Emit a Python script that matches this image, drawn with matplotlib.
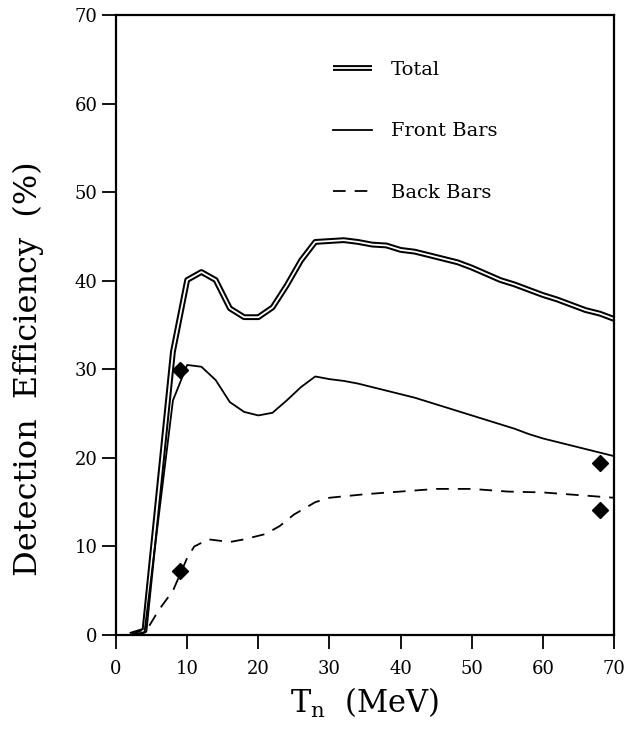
import numpy as np
import matplotlib.pyplot as plt
import matplotlib.patheffects as pe

plt.rcParams['font.family'] = ['DejaVu Serif']
plt.rcParams['mathtext.fontset'] = 'dejavuserif'

# total efficiency (double line)
total_x = [2, 4, 8, 10, 12, 14, 16, 18, 20, 22, 24, 26, 28, 30, 32, 34, 36, 38, 40,
           42, 44, 46, 48, 50, 52, 54, 56, 58, 60, 62, 64, 66, 68, 70]
total_y = [0.0, 0.5, 32.0, 40.1, 41.0, 40.1, 36.9, 35.9, 35.9, 37.0, 39.5, 42.3, 44.4,
           44.5, 44.6, 44.4, 44.1, 44.0, 43.5, 43.3, 42.9, 42.5, 42.1, 41.5, 40.8,
           40.1, 39.6, 39.0, 38.4, 37.9, 37.3, 36.7, 36.3, 35.7]

# front bars (solid)
front_x = [2, 4, 8, 10, 12, 14, 16, 18, 20, 22, 24, 26, 28, 30, 32, 34, 36, 38, 40,
           42, 44, 46, 48, 50, 52, 54, 56, 58, 60, 62, 64, 66, 68, 70]
front_y = [0.0, 0.3, 26.5, 30.5, 30.3, 28.8, 26.3, 25.2, 24.8, 25.1, 26.5, 28.0, 29.2,
           28.9, 28.7, 28.4, 28.0, 27.6, 27.2, 26.8, 26.3, 25.8, 25.3, 24.8, 24.3,
           23.8, 23.3, 22.7, 22.2, 21.8, 21.4, 21.0, 20.6, 20.2]

# back bars (dashed)
back_x = [2, 4.5, 6, 8, 10, 11, 13, 16, 18, 21, 23, 25, 28, 30, 35, 40, 45, 50, 55,
          60, 65, 70]
back_y = [0.0, 0.8, 2.8, 5.0, 8.7, 10.0, 10.8, 10.5, 10.8, 11.4, 12.3, 13.6, 15.0,
          15.5, 15.9, 16.2, 16.5, 16.5, 16.2, 16.1, 15.8, 15.5]

# measured points
meas_x = [9, 9, 68, 68]
meas_y = [29.9, 7.2, 19.4, 14.1]

fig = plt.figure(figsize=(6.41, 7.29), dpi=100)
ax = fig.add_axes([0.181, 0.129, 0.777, 0.850])

ax.plot(total_x, total_y, color='white', lw=1.3, label='Total', solid_capstyle='butt',
        path_effects=[pe.Stroke(linewidth=4.2, foreground='black', capstyle='butt'),
                      pe.Normal()])
ax.plot(front_x, front_y, color='black', lw=1.3, label='Front Bars')
ax.plot(back_x, back_y, color='black', lw=1.3, ls=(0, (7, 5)), label='Back Bars')
ax.plot(meas_x, meas_y, 'D', color='black', ms=8, ls='none')

ax.set_xlim(0, 70)
ax.set_ylim(0, 70)
ax.set_xticks(np.arange(0, 71, 10))
ax.set_yticks(np.arange(0, 71, 10))
ax.tick_params(direction='out', length=10, width=1.3, labelsize=13)
ax.tick_params(axis='x', pad=8)
for s in ax.spines.values():
    s.set_linewidth(1.6)

ax.set_xlabel(r'T$_{\rm n}$  (MeV)', fontsize=22, labelpad=6)
ax.set_ylabel('Detection  Efficiency  (%)', fontsize=23)
ax.yaxis.set_label_coords(-0.145, 0.43)

leg = ax.legend(loc='upper left', bbox_to_anchor=(0.4, 0.955), frameon=False,
                fontsize=14, handlelength=2.0, labelspacing=2.25, handletextpad=1.0)

fig.savefig('out.png', dpi=100)
